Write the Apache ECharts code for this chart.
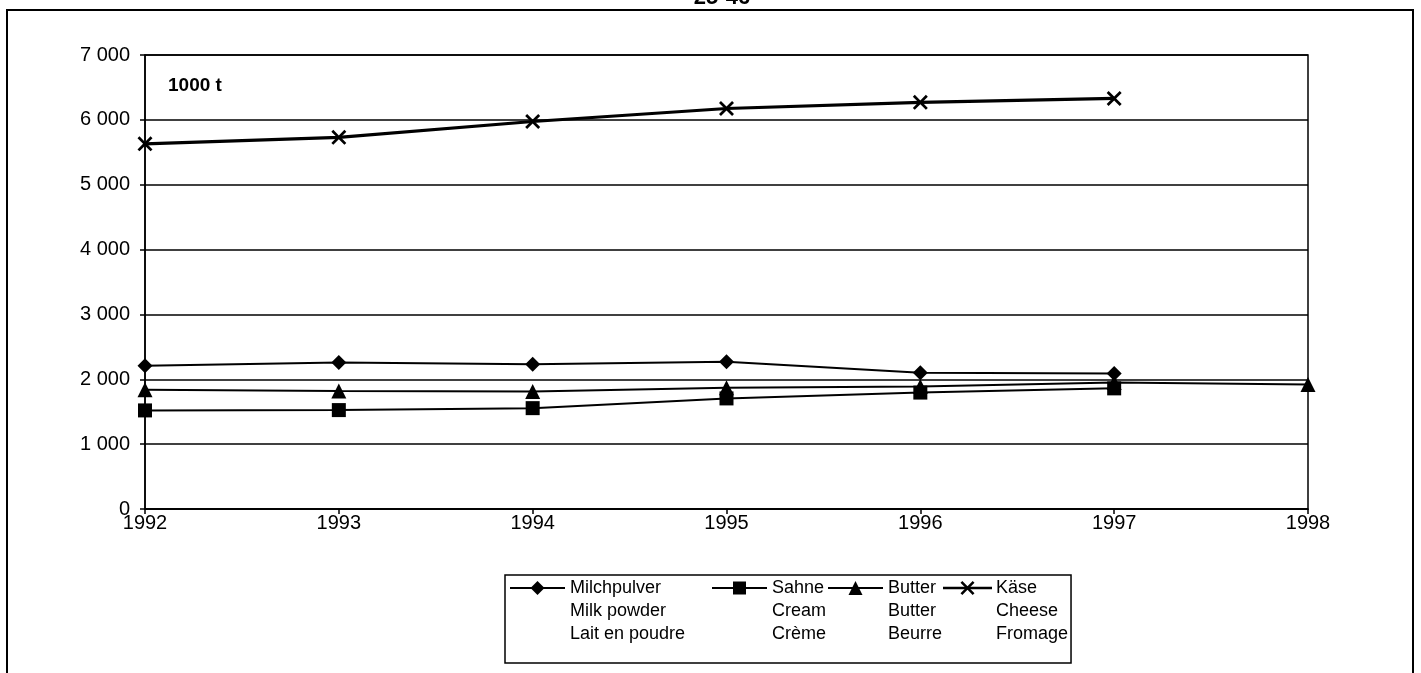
<!DOCTYPE html>
<html>
<head>
<meta charset="utf-8">
<script src="https://cdn.jsdelivr.net/npm/echarts@6/dist/echarts.min.js"></script>
<style>
html,body{margin:0;padding:0;background:#fff;}
#c{width:1421px;height:673px;}
</style>
</head>
<body>
<div id="c"></div>
<script>
const years = ['1992','1993','1994','1995','1996','1997','1998'];
const milchpulver = [2210, 2260, 2230, 2270, 2100, 2090, null];
const sahne = [1520, 1525, 1555, 1705, 1795, 1860, null];
const butter = [1840, 1820, 1810, 1870, 1890, 1950, 1920];
const kaese = [5630, 5730, 5975, 6175, 6270, 6330, null];
const legendLines = [
  ['Milchpulver', 'Milk powder', 'Lait en poudre'],
  ['Sahne', 'Cream', 'Crème'],
  ['Butter', 'Butter', 'Beurre'],
  ['Käse', 'Cheese', 'Fromage']
];
const yTicks = [0, 1000, 2000, 3000, 4000, 5000, 6000, 7000];
const unitLabel = '1000 t';
const pageTitle = '25-46';

const FONT = '"Liberation Sans", Arial, sans-serif';
const LEG_FONT_SIZE = 18;
const symbols = ['diamond', 'rect', 'triangle', 'path://M0,1.3L1.3,0L5,3.7L8.7,0L10,1.3L6.3,5L10,8.7L8.7,10L5,6.3L1.3,10L0,8.7L3.7,5Z'];
const symbolSizes = [15, 14, 15, 15];
const lineWidths = [2, 2, 2, 3.2];
const seriesData = [milchpulver, sahne, butter, kaese];

const chart = echarts.init(document.getElementById('c'), null, {renderer: 'canvas'});

const series = seriesData.map((d, i) => ({
  name: legendLines[i][0],
  type: 'line',
  data: d,
  symbol: symbols[i],
  symbolSize: symbolSizes[i],
  showSymbol: true,
  connectNulls: false,
  lineStyle: {color: '#000', width: lineWidths[i]},
  itemStyle: {color: '#000', borderWidth: 0},
  z: 3 + i,
  animation: false
}));

function xPoly(cx, cy, s) {
  const p = [[0,1.3],[1.3,0],[5,3.7],[8.7,0],[10,1.3],[6.3,5],[10,8.7],[8.7,10],[5,6.3],[1.3,10],[0,8.7],[3.7,5]];
  return p.map(q => [cx - s/2 + q[0]*s/10, cy - s/2 + q[1]*s/10]);
}

const legFont = LEG_FONT_SIZE + 'px ' + FONT;
const boxX = 505, boxY = 575, rowY = [588, 611, 634];
const items = [
  {x1: 510, x2: 565, tx: 570},
  {x1: 712, x2: 767, tx: 772},
  {x1: 828, x2: 883, tx: 888},
  {x1: 943, x2: 992, tx: 996}
];
const lastW = Math.max(...legendLines[3].map(t => echarts.format.getTextRect(t, legFont).width));
const boxW = items[3].tx + lastW + 3 - boxX;

const graphics = [
  {type: 'rect', shape: {x: 7, y: 10, width: 1406, height: 700}, style: {fill: null, stroke: '#000', lineWidth: 2}, z: 0},
  {type: 'text', x: 722, y: 9, style: {text: pageTitle, font: 'bold 22px ' + FONT, fill: '#000', textAlign: 'center', textVerticalAlign: 'bottom'}},
  {type: 'text', x: 168, y: 86, style: {text: unitLabel, font: 'bold 19px ' + FONT, fill: '#000', textAlign: 'left', textVerticalAlign: 'middle'}},
  {type: 'rect', shape: {x: boxX, y: boxY, width: boxW, height: 88}, style: {fill: '#fff', stroke: '#000', lineWidth: 1.5}}
];
items.forEach((it, i) => {
  graphics.push({type: 'line', shape: {x1: it.x1, y1: rowY[0], x2: it.x2, y2: rowY[0]}, style: {stroke: '#000', lineWidth: lineWidths[i] > 2 ? 2.5 : 2}});
  const s = symbolSizes[i] - 1;
  const cx = (it.x1 + it.x2) / 2;
  const cy = rowY[0];
  let sym;
  if (symbols[i] === 'diamond') {
    sym = {type: 'polygon', shape: {points: [[cx, cy-s/2],[cx+s/2, cy],[cx, cy+s/2],[cx-s/2, cy]]}};
  } else if (symbols[i] === 'rect') {
    sym = {type: 'rect', shape: {x: cx - s/2, y: cy - s/2, width: s, height: s}};
  } else if (symbols[i] === 'triangle') {
    sym = {type: 'polygon', shape: {points: [[cx, cy-s/2],[cx+s/2, cy+s/2],[cx-s/2, cy+s/2]]}};
  } else {
    sym = {type: 'polygon', shape: {points: xPoly(cx, cy, s)}};
  }
  sym.style = {fill: '#000'};
  graphics.push(sym);
  legendLines[i].forEach((t, r) => {
    graphics.push({type: 'text', x: it.tx, y: rowY[r], style: {text: t, font: legFont, fill: '#000', textAlign: 'left', textVerticalAlign: 'middle'}});
  });
});

chart.setOption({
  backgroundColor: '#fff',
  animation: false,
  grid: {left: 145, right: 113, top: 55, bottom: 164, containLabel: false,
         show: true, borderColor: '#000', borderWidth: 1.5, backgroundColor: 'transparent'},
  xAxis: {
    type: 'category',
    data: years,
    boundaryGap: false,
    axisLine: {lineStyle: {color: '#000', width: 1.5}},
    axisTick: {show: true, length: 5, lineStyle: {color: '#000', width: 1.5}},
    axisLabel: {color: '#000', fontSize: 20, fontFamily: FONT, margin: 4},
    splitLine: {show: false}
  },
  yAxis: {
    type: 'value',
    min: yTicks[0],
    max: yTicks[yTicks.length - 1],
    interval: 1000,
    axisLine: {show: true, lineStyle: {color: '#000', width: 1.5}},
    axisTick: {show: true, length: 5, lineStyle: {color: '#000', width: 1.5}},
    axisLabel: {color: '#000', fontSize: 20, fontFamily: FONT, margin: 15,
      formatter: v => String(v).replace(/\B(?=(\d{3})+(?!\d))/g, ' ')},
    splitLine: {show: true, lineStyle: {color: '#000', width: 1.5}}
  },
  series: series,
  graphic: graphics
});
</script>
</body>
</html>
